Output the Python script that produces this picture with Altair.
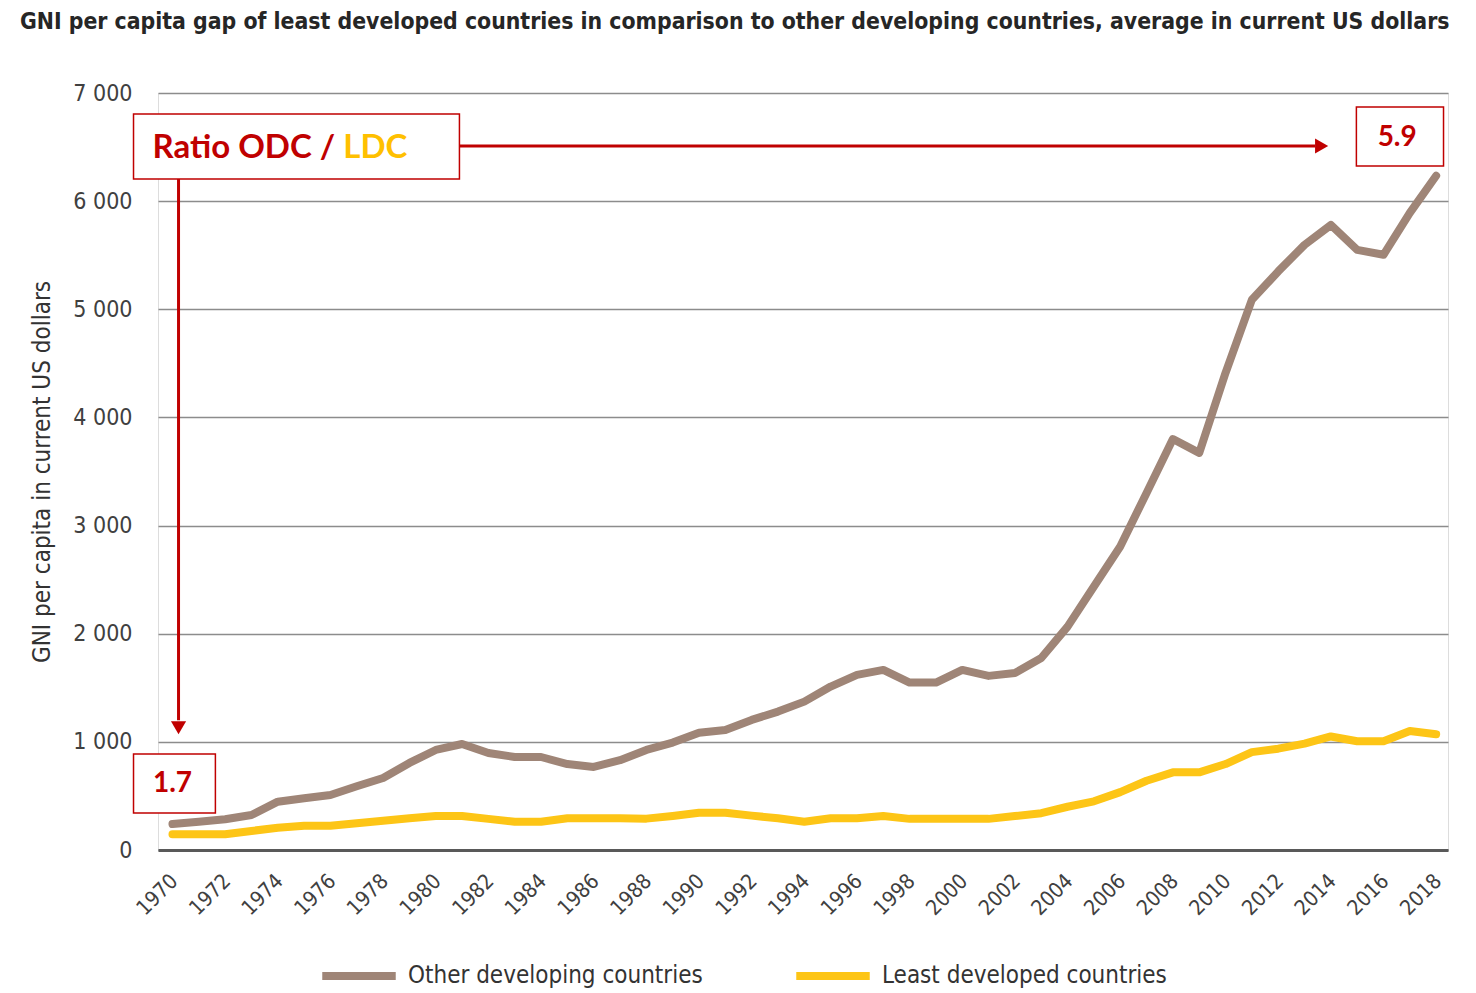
import altair as alt
import pandas as pd

years = list(range(1970, 2019))
odc = [240, 262, 284, 324, 447, 478, 509, 590, 666, 805,
       925, 980, 897, 860, 860, 795, 768, 830, 925, 993,
       1085, 1110, 1203, 1280, 1372, 1511, 1619, 1665, 1548, 1548,
       1665, 1610, 1637, 1775, 2066, 2436, 2806, 3302, 3800, 3672,
       4412, 5088, 5350, 5596, 5780, 5550, 5504, 5892, 6235]
ldc = [145, 145, 145, 176, 206, 225, 225, 248, 271, 293,
       314, 314, 288, 262, 262, 293, 293, 293, 290, 315,
       345, 345, 318, 293, 262, 293, 293, 314, 288, 288,
       288, 288, 314, 340, 400, 450, 535, 640, 718, 718,
       795, 905, 937, 984, 1050, 1006, 1006, 1100, 1070]
series_names = ["Other developing countries", "Least developed countries"]
series_colors = ["#9F8577", "#FDC516"]
x_ticks = list(range(1970, 2019, 2))
y_ticks = [0, 1000, 2000, 3000, 4000, 5000, 6000, 7000]

# annotation boxes (data coordinates): x1, x2, y1, y2
box_x1 = [1968.52, 2014.97, 1968.52]
box_x2 = [1980.90, 2018.28, 1971.63]
box_y1 = [6205, 6325, 342]
box_y2 = [6806, 6871, 888]
# ratio labels
ratio_text = ["5.9", "1.7"]
ratio_x = [2016.52, 1970.0]
ratio_y = [6580, 610]
# header text pieces
head_text = ["Ratio ODC / ", "LDC"]
head_color = ["#C00000", "#FFC000"]
head_x = [1969.24, 1976.49]
head_y = [6490, 6490]
# arrows
harrow = {"x": 1980.90, "x2": 2013.4, "y": 6510}
varrow = {"x": 1970.23, "y": 6205, "y2": 1200}
heads = pd.DataFrame({"x": [2013.65, 1970.23], "y": [6510, 1130],
                      "shape": ["triangle-right", "triangle-down"]})

NARROW = "Liberation Sans Narrow, Arial Narrow, DejaVu Sans Condensed, sans-serif"
BOLDF = "Lato, Open Sans, sans-serif"
RED = "#C00000"

df = pd.concat([
    pd.DataFrame({"year": years, "value": odc, "series": series_names[0]}),
    pd.DataFrame({"year": years, "value": ldc, "series": series_names[1]}),
])

xscale = alt.Scale(domain=[1969.45, 2018.45], nice=False, zero=False)
yscale = alt.Scale(domain=[0, 7000], nice=False)

lines = alt.Chart(df).mark_line(strokeWidth=8, strokeCap="round", strokeJoin="round").encode(
    x=alt.X("year:Q", scale=xscale,
            axis=alt.Axis(values=x_ticks, format="d", title=None, labelAngle=-45,
                          labelFont=NARROW, labelFontSize=21, labelColor="#404040",
                          labelPadding=20, labelOffset=-6, ticks=False, grid=False,
                          domainColor="#595959", domainWidth=3, labelOverlap=False,
                          labelBound=False)),
    y=alt.Y("value:Q", scale=yscale,
            axis=alt.Axis(values=y_ticks, title="GNI per capita in current US dollars",
                          labelExpr="replace(format(datum.value, ','), ',', ' ')",
                          labelFont=NARROW, labelFontSize=23, labelColor="#404040",
                          labelPadding=26, ticks=False, domain=False,
                          gridColor="#8C8C8C", gridWidth=1.5,
                          titleFont=NARROW, titleFontSize=24, titleFontWeight="normal",
                          titleColor="#333333", titlePadding=18)),
    color=alt.Color("series:N",
                    scale=alt.Scale(domain=series_names, range=series_colors),
                    legend=alt.Legend(title=None, orient="none", direction="horizontal",
                                      legendX=160, legendY=842, padding=0,
                                      symbolType="stroke", symbolStrokeWidth=8,
                                      symbolSize=5400, labelFont=NARROW,
                                      labelFontSize=24, labelColor="#333333",
                                      labelOffset=8, columnPadding=77, labelLimit=600)),
)

boxes = alt.Chart(pd.DataFrame({"x1": box_x1, "x2": box_x2, "y1": box_y1, "y2": box_y2})).mark_rect(
    fill="white", stroke=RED, strokeWidth=1.5).encode(
    x="x1:Q", x2="x2:Q", y="y1:Q", y2="y2:Q")

ratios = alt.Chart(pd.DataFrame({"t": ratio_text, "x": ratio_x, "y": ratio_y})).mark_text(
    font=BOLDF, fontSize=28, fontWeight="bold", color=RED, align="center", baseline="middle").encode(
    x="x:Q", y="y:Q", text="t:N")

header = alt.Chart(pd.DataFrame({"t": head_text, "x": head_x, "y": head_y, "c": head_color})).mark_text(
    font=BOLDF, fontSize=33, fontWeight="bold", align="left", baseline="middle").encode(
    x="x:Q", y="y:Q", text="t:N", color=alt.Color("c:N", scale=None))

hline = alt.Chart(pd.DataFrame([harrow])).mark_rule(color=RED, strokeWidth=3).encode(
    x="x:Q", x2="x2:Q", y="y:Q")
vline = alt.Chart(pd.DataFrame([varrow])).mark_rule(color=RED, strokeWidth=3).encode(
    x="x:Q", y="y:Q", y2="y2:Q")
arrowheads = alt.Chart(heads).mark_point(filled=True, color=RED, size=230, opacity=1).encode(
    x="x:Q", y="y:Q", shape=alt.Shape("shape:N", scale=None))

chart = alt.layer(lines, hline, vline, arrowheads, boxes, ratios, header).properties(
    width=1290, height=757,
    title=alt.TitleParams(
        "GNI per capita gap of least developed countries in comparison to other developing countries, average in current US dollars",
        anchor="start", frame="group", dx=-138, offset=48,
        font=NARROW, fontSize=22.8, fontWeight="bold", color="#262626"),
    autosize=alt.AutoSizeParams(type="none"),
    padding={"left": 150, "top": 85, "right": 10, "bottom": 140},
).configure_view(stroke=None).configure(background="white")

chart.save("out.html", embed_options={"renderer": "svg", "actions": False})
